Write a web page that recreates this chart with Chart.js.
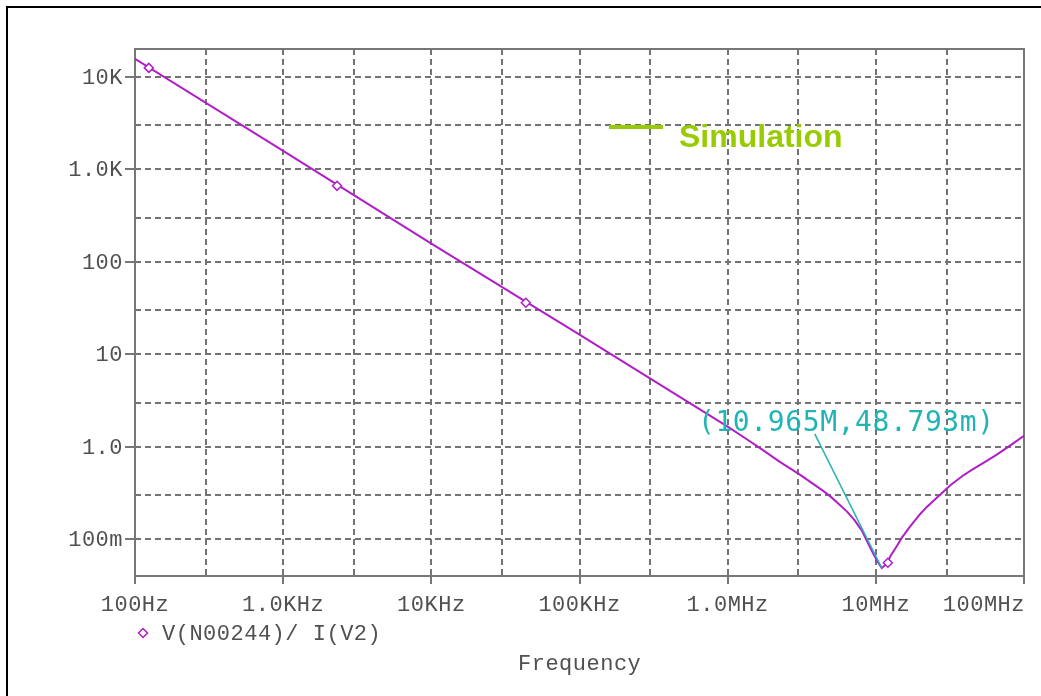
<!DOCTYPE html>
<html>
<head>
<meta charset="utf-8">
<title>V(N00244)/ I(V2)</title>
<script src="https://cdn.jsdelivr.net/npm/chart.js@4.4.1/dist/chart.umd.min.js"></script>
<style>
    html, body { margin: 0; padding: 0; background: #fff; }
    #wrap { width: 1041px; height: 696px; }
</style>
</head>
<body>
<div id="wrap"><canvas id="plot" width="1041" height="696"></canvas></div>
<script>
// Impedance trace (Hz, ohms)
const freqHz = [100, 1000, 10000, 100000, 1000000, 1300000, 1730000, 2250000, 3070000,
    4390000, 5000000, 6370000, 7200000, 8050000, 9120000, 9600000, 10200000, 10600000,
    10965000, 11860000, 12500000, 13900000, 15000000, 16900000, 19800000, 22000000,
    27000000, 32000000, 38600000, 45000000, 55000000, 65500000, 80000000, 100000000];
const impedance = [15650, 1585, 157, 16.3, 1.65, 1.25, 0.92, 0.685, 0.5,
    0.335, 0.285, 0.2, 0.16, 0.124, 0.082, 0.07, 0.0586, 0.053,
    0.048793, 0.0543, 0.065, 0.085, 0.104, 0.135, 0.185, 0.222,
    0.30, 0.385, 0.485, 0.57, 0.69, 0.82, 1.02, 1.315];

// PSpice trace symbols (diamonds)
const markerFreq = [124, 2310, 43400, 12050000];
const markerZ = [12500, 663, 36.1, 0.0557];

// Cursor readout and its leader line
const cursorFreq = [3870000, 10965000];
const cursorZ = [1.38, 0.048793];
const cursorText = '(10.965M,48.793m)';
const cursorTextAt = [630000, 1.77];

// Axes
const xRange = [100, 100000000];
const yRange = [0.04, 20000];
const xTicks = [100, 1000, 10000, 100000, 1000000, 10000000, 100000000];
const xTickLabels = ['100Hz', '1.0KHz', '10KHz', '100KHz', '1.0MHz', '10MHz', '100MHz'];
const yTicks = [0.1, 1, 10, 100, 1000, 10000];
const yTickLabels = ['100m', '1.0', '10', '100', '1.0K', '10K'];
const xGrid = [300, 1000, 3000, 10000, 30000, 100000, 300000, 1000000, 3000000, 10000000, 30000000];
const yGrid = [0.1, 0.3, 1, 3, 10, 30, 100, 300, 1000, 3000, 10000];

const traceName = 'V(N00244)/ I(V2)';
const xTitle = 'Frequency';
const simLabel = 'Simulation';

const PURPLE = '#b01ec6';
const CYAN = '#22b4b4';
const GREEN = '#99cc00';
const GRID = '#737373';
const TEXT = '#505050';
const MONO = '"Liberation Mono", "DejaVu Sans Mono", monospace';

function drawDiamond(ctx, x, y, r) {
    ctx.beginPath();
    ctx.moveTo(x, y - r);
    ctx.lineTo(x + r, y);
    ctx.lineTo(x, y + r);
    ctx.lineTo(x - r, y);
    ctx.closePath();
    ctx.stroke();
}

// Frame, ticks, labels and annotations in the PSpice look
const pspiceDecor = {
    id: 'pspiceDecor',
    beforeDatasetsDraw(chart) {
        const { ctx, chartArea: a } = chart;
        ctx.save();
        ctx.strokeStyle = '#777';
        ctx.lineWidth = 2;
        ctx.strokeRect(a.left, a.top, a.right - a.left, a.bottom - a.top);

        // simulation legend line
        ctx.strokeStyle = GREEN;
        ctx.lineWidth = 4;
        ctx.beginPath();
        ctx.moveTo(609, 127);
        ctx.lineTo(663, 127);
        ctx.stroke();
        ctx.restore();
    },
    afterDatasetsDraw(chart) {
        const { ctx, chartArea: a, scales: { x, y } } = chart;
        ctx.save();

        // outer page border
        ctx.strokeStyle = '#000';
        ctx.lineWidth = 2;
        ctx.beginPath();
        ctx.moveTo(7, 696);
        ctx.lineTo(7, 7);
        ctx.lineTo(1041, 7);
        ctx.stroke();

        // tick marks
        ctx.strokeStyle = '#777';
        ctx.lineWidth = 2;
        ctx.beginPath();
        yTicks.forEach(v => {
            const py = Math.round(y.getPixelForValue(v));
            ctx.moveTo(a.left - 10, py);
            ctx.lineTo(a.left, py);
        });
        xTicks.forEach(v => {
            const px = Math.round(x.getPixelForValue(v));
            ctx.moveTo(px, a.bottom - 5);
            ctx.lineTo(px, a.bottom + 8);
        });
        ctx.stroke();

        // tick labels
        ctx.fillStyle = TEXT;
        ctx.font = '22px ' + MONO;
        ctx.letterSpacing = '0.5px';
        ctx.textBaseline = 'middle';
        ctx.textAlign = 'right';
        yTicks.forEach((v, i) => {
            ctx.fillText(yTickLabels[i], a.left - 12, y.getPixelForValue(v) + 1);
        });
        xTicks.forEach((v, i) => {
            const px = x.getPixelForValue(v);
            const last = i === xTicks.length - 1;
            ctx.textAlign = last ? 'right' : 'center';
            ctx.fillText(xTickLabels[i], last ? px + 1 : px, a.bottom + 29);
        });

        // trace legend and axis title
        ctx.textAlign = 'left';
        ctx.fillText(traceName, 162, 634);
        ctx.fillText(xTitle, 518, 664);
        ctx.strokeStyle = PURPLE;
        ctx.lineWidth = 1.5;
        drawDiamond(ctx, 143, 633, 4.5);

        // cursor readout
        ctx.letterSpacing = '0.6px';
        ctx.fillStyle = CYAN;
        ctx.font = '28px "DejaVu Sans Mono", monospace';
        ctx.fillText(cursorText, x.getPixelForValue(cursorTextAt[0]), y.getPixelForValue(cursorTextAt[1]));

        // simulation label
        ctx.letterSpacing = '0px';
        ctx.fillStyle = GREEN;
        ctx.font = 'bold 32px "Liberation Sans", Arial, sans-serif';
        ctx.fillText(simLabel, 679, 138);
        ctx.restore();
    }
};

const gridScale = (range, lines) => ({
    type: 'logarithmic',
    min: range[0],
    max: range[1],
    afterBuildTicks: scale => { scale.ticks = lines.map(v => ({ value: v })); },
    ticks: { display: false },
    grid: { color: GRID, lineWidth: 2, drawTicks: false },
    border: { display: false, dash: [6, 4] }
});

new Chart(document.getElementById('plot'), {
    type: 'line',
    data: {
        datasets: [
            {
                label: 'cursor',
                data: cursorFreq.map((f, i) => ({ x: f, y: cursorZ[i] })),
                borderColor: CYAN,
                borderWidth: 1.5,
                pointRadius: 0
            },
            {
                label: 'symbols',
                data: markerFreq.map((f, i) => ({ x: f, y: markerZ[i] })),
                showLine: false,
                pointStyle: 'rectRot',
                pointRadius: 4.5,
                pointBorderWidth: 1.5,
                pointBorderColor: PURPLE,
                pointBackgroundColor: '#fff'
            },
            {
                label: traceName,
                data: freqHz.map((f, i) => ({ x: f, y: impedance[i] })),
                borderColor: PURPLE,
                borderWidth: 2,
                pointRadius: 0,
                tension: 0
            }
        ]
    },
    options: {
        responsive: false,
        animation: false,
        layout: { padding: { left: 135, top: 49, right: 17, bottom: 120 } },
        plugins: {
            legend: { display: false },
            tooltip: { enabled: false }
        },
        scales: {
            x: gridScale(xRange, xGrid),
            y: gridScale(yRange, yGrid)
        }
    },
    plugins: [pspiceDecor]
});
</script>
</body>
</html>
